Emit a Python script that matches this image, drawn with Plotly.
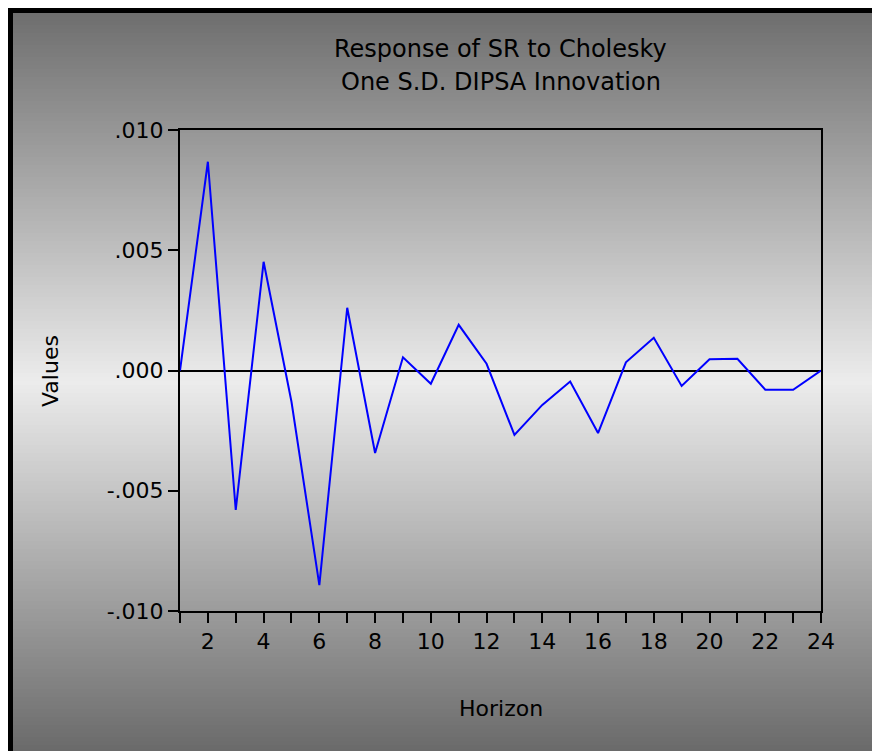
import plotly.graph_objects as go

# ---- data ----
horizon = list(range(1, 25))
response = [0.0, 0.00868, -0.0058, 0.00452, -0.0013, -0.00892, 0.00261, -0.00343,
            0.00055, -0.00055, 0.0019, 0.00028, -0.00268, -0.00143, -0.00046, -0.0026,
            0.00034, 0.00136, -0.00064, 0.00047, 0.00049, -0.0008, -0.0008, 0.0]
x_tick_vals = [2, 4, 6, 8, 10, 12, 14, 16, 18, 20, 22, 24]
y_tick_vals = [0.010, 0.005, 0.0, -0.005, -0.010]
y_tick_text = [".010", ".005", ".000", "-.005", "-.010"]

W, H = 872, 751
L, R, T, B = 180, 51, 130, 140
pw, ph = W - L - R, H - T - B

def px_x(px):
    return (px - L) / pw

def px_y(py):
    return (H - B - py) / ph

def grey(py):
    top, mid, bot = 13, 382, 751
    if py <= mid:
        f = (py - top) / (mid - top)
        v = 110 + (236 - 110) * f
    else:
        f = (py - mid) / (bot - mid)
        v = 236 + (106 - 236) * f
    v = int(round(v))
    return f"rgb({v},{v},{v})"

shapes = []
band = 4
y = 13
while y < H:
    y2 = min(y + band, H)
    shapes.append(dict(type="rect", xref="paper", yref="paper", layer="below",
                       x0=px_x(13), x1=px_x(W), y0=px_y(y2), y1=px_y(y),
                       fillcolor=grey((y + y2) / 2), line=dict(width=0)))
    y = y2
# black frame on top and left
shapes.append(dict(type="rect", xref="paper", yref="paper", layer="below",
                   x0=px_x(8), x1=px_x(W), y0=px_y(13), y1=px_y(8),
                   fillcolor="black", line=dict(width=0)))
shapes.append(dict(type="rect", xref="paper", yref="paper", layer="below",
                   x0=px_x(8), x1=px_x(13), y0=px_y(H), y1=px_y(8),
                   fillcolor="black", line=dict(width=0)))

font = "DejaVu Sans, Arial, sans-serif"

fig = go.Figure()
fig.add_trace(go.Scatter(x=horizon, y=response, mode="lines",
                         line=dict(color="#0000ff", width=2), showlegend=False))

fig.update_layout(
    width=W, height=H,
    margin=dict(l=L, r=R, t=T, b=B, pad=0),
    paper_bgcolor="white",
    plot_bgcolor="rgba(0,0,0,0)",
    shapes=shapes,
    font=dict(family=font, color="black", size=22),
    annotations=[
        dict(text="Response of SR to Cholesky", xref="paper", yref="paper",
             x=0.5, y=px_y(49), xanchor="center", yanchor="middle",
             showarrow=False, font=dict(size=24, family=font, color="black")),
        dict(text="One S.D. DIPSA Innovation", xref="paper", yref="paper",
             x=0.5, y=px_y(82), xanchor="center", yanchor="middle",
             showarrow=False, font=dict(size=24, family=font, color="black")),
        dict(text="Horizon", xref="paper", yref="paper",
             x=0.5, y=px_y(708), xanchor="center", yanchor="middle",
             showarrow=False, font=dict(size=22, family=font, color="black")),
        dict(text="Values", xref="paper", yref="paper",
             x=px_x(50), y=px_y(371), xanchor="center", yanchor="middle",
             textangle=-90, showarrow=False,
             font=dict(size=22, family=font, color="black")),
    ],
)

fig.update_xaxes(
    range=[1, 24], tickmode="array", tickvals=x_tick_vals,
    ticks="outside", ticklen=10, tickwidth=1.5, tickcolor="black",
    minor=dict(tickmode="linear", tick0=1, dtick=1, ticks="outside",
               ticklen=10, tickwidth=1.5, tickcolor="black"),
    showline=True, linecolor="black", linewidth=2, mirror=True,
    showgrid=False, zeroline=False,
    tickfont=dict(size=22, family=font, color="black"),
)
fig.update_yaxes(
    range=[-0.010, 0.010], tickmode="array", tickvals=y_tick_vals,
    ticktext=y_tick_text,
    ticks="outside", ticklen=10, tickwidth=1.5, tickcolor="black",
    showline=True, linecolor="black", linewidth=2, mirror=True,
    showgrid=False, zeroline=True, zerolinecolor="black", zerolinewidth=1.5,
    tickfont=dict(size=22, family=font, color="black"),
)

fig.write_html(
    "out.html",
    config={"displayModeBar": False},
    post_script="document.body.style.margin='0';document.body.style.overflow='hidden';",
)
